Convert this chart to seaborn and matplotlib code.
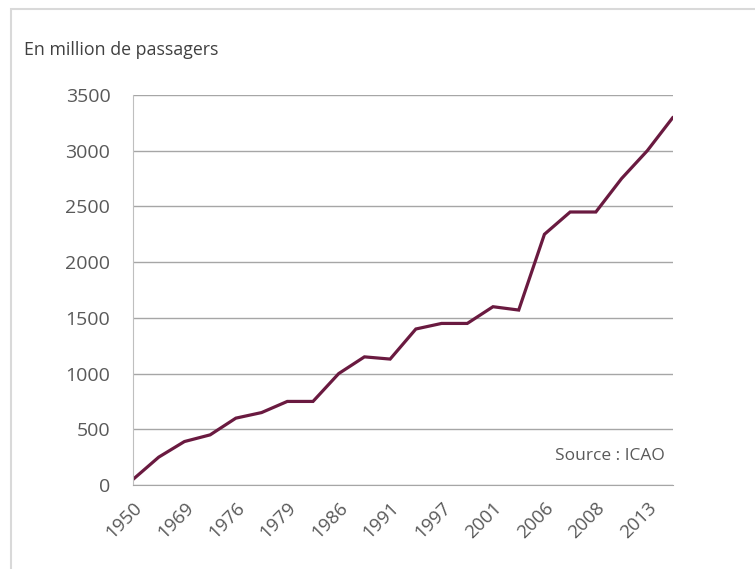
import numpy as np
import pandas as pd
import matplotlib.pyplot as plt
import seaborn as sns
from matplotlib.patches import Rectangle

# -----------------------------
# Data
# -----------------------------
# labelled categories (every other point carries a label)
YEAR_LABELS = ["1950", "1969", "1976", "1979", "1986", "1991",
               "1997", "2001", "2006", "2008", "2013"]
# passengers, million, one value per point (22 points)
PASSENGERS = [50, 250, 390, 450, 600, 650, 750, 750, 1000, 1150, 1130,
              1400, 1450, 1450, 1600, 1570, 2250, 2450, 2450, 2750, 3000, 3300]
Y_TICKS = [0, 500, 1000, 1500, 2000, 2500, 3000, 3500]

LINE_COLOR = "#6a1a40"
GRID_COLOR = "#a6a6a6"
TEXT_COLOR = "#595959"

df = pd.DataFrame({"pos": np.arange(len(PASSENGERS)), "passagers": PASSENGERS})

sns.set_style("white")
plt.rcParams["font.family"] = ["Open Sans", "DejaVu Sans"]

fig = plt.figure(figsize=(7.55, 5.69), dpi=100)
ax = fig.add_axes([133 / 755, 1 - 485 / 569, 540 / 755, 390 / 569])

# chart frame (top and left visible, rest cropped)
fig.patches.append(Rectangle((11 / 755, -0.1), 1.2, 1 - 9 / 569 + 0.1,
                             transform=fig.transFigure, fill=False,
                             edgecolor="#d9d9d9", linewidth=1.5))

sns.lineplot(data=df, x="pos", y="passagers", ax=ax, color=LINE_COLOR,
             linewidth=2.3, solid_joinstyle="miter")

ax.set_xlim(0, len(PASSENGERS) - 1)
ax.set_ylim(0, 3500)
ax.set_yticks(Y_TICKS)
ax.set_yticklabels([str(t) for t in Y_TICKS])
ax.set_xticks(df["pos"][::2])
ax.set_xticklabels(YEAR_LABELS, rotation=45, ha="right", rotation_mode="anchor")

ax.yaxis.grid(True, color=GRID_COLOR, linewidth=1)
ax.set_axisbelow(True)
ax.tick_params(axis="y", length=4.3, color=GRID_COLOR, width=1, pad=12,
               labelsize=14, labelcolor=TEXT_COLOR)
ax.tick_params(axis="x", length=5, color=GRID_COLOR, width=1, pad=5,
               labelsize=13.5, labelcolor=TEXT_COLOR)
for side in ["top", "right"]:
    ax.spines[side].set_visible(False)
ax.spines["left"].set_color("#bfbfbf")
ax.spines["bottom"].set_color(GRID_COLOR)
ax.set_xlabel("")
ax.set_ylabel("")

fig.text(24 / 755, 1 - 50 / 569, "En million de passagers", fontsize=12.8,
         color="#404040", va="center", ha="left")
ax.text(0.985, 0.075, "Source : ICAO", transform=ax.transAxes, fontsize=12.5,
        color=TEXT_COLOR, ha="right", va="center")

plt.savefig("out.png", dpi=100)
